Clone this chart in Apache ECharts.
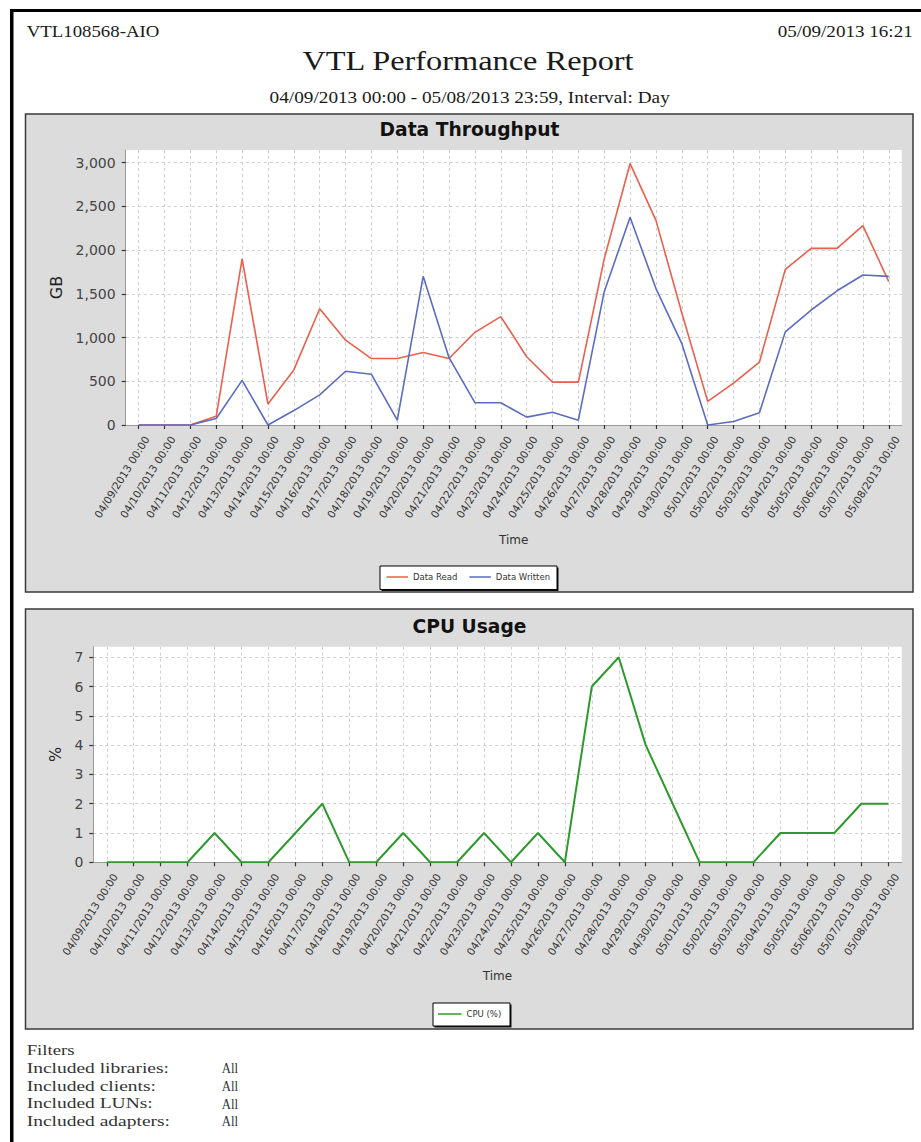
<!DOCTYPE html>
<html>
<head>
<meta charset="utf-8">
<title>VTL Performance Report</title>
<style>
  html, body { margin: 0; padding: 0; background: #ffffff; }
  #report { width: 921px; height: 1142px; }
</style>
<script src="https://cdn.jsdelivr.net/npm/echarts@6/dist/echarts.min.js"></script>
</head>
<body>
<div id="report"></div>
<script>
// Daily samples, 04/09/2013 .. 05/08/2013
const categories = [
  '04/09/2013 00:00', '04/10/2013 00:00', '04/11/2013 00:00', '04/12/2013 00:00',
  '04/13/2013 00:00', '04/14/2013 00:00', '04/15/2013 00:00', '04/16/2013 00:00',
  '04/17/2013 00:00', '04/18/2013 00:00', '04/19/2013 00:00', '04/20/2013 00:00',
  '04/21/2013 00:00', '04/22/2013 00:00', '04/23/2013 00:00', '04/24/2013 00:00',
  '04/25/2013 00:00', '04/26/2013 00:00', '04/27/2013 00:00', '04/28/2013 00:00',
  '04/29/2013 00:00', '04/30/2013 00:00', '05/01/2013 00:00', '05/02/2013 00:00',
  '05/03/2013 00:00', '05/04/2013 00:00', '05/05/2013 00:00', '05/06/2013 00:00',
  '05/07/2013 00:00', '05/08/2013 00:00'
];

// Data throughput, GB per day
const dataRead = [
  0, 0, 0, 100, 1900, 240, 630, 1330, 970, 760,
  760, 830, 760, 1060, 1240, 780, 490, 490, 1900, 2990,
  2340, 1280, 270, 480, 720, 1780, 2020, 2020, 2280, 1640
];
const dataWritten = [
  0, 0, 0, 75, 510, 0, 165, 345, 615, 580,
  55, 1700, 770, 255, 255, 90, 145, 55, 1525, 2375,
  1560, 930, 0, 40, 140, 1065, 1315, 1535, 1715, 1700
];

// CPU usage, percent per day
const cpuPercent = [
  0, 0, 0, 0, 1, 0, 0, 1, 2, 0,
  0, 1, 0, 0, 1, 0, 1, 0, 6, 7,
  4, 2, 0, 0, 0, 1, 1, 1, 2, 2
];

const filterRows = [
  ['Included libraries:', 'All'],
  ['Included clients:', 'All'],
  ['Included LUNs:', 'All'],
  ['Included adapters:', 'All']
];

const SERIF = '"Liberation Serif", "Times New Roman", serif';
const SANS = '"DejaVu Sans", Verdana, sans-serif';

const chart = echarts.init(document.getElementById('report'), null, { renderer: 'svg' });

function serifText(text, x, y, size, align, scaleX, fill) {
  return {
    type: 'text', x: x, y: y, scaleX: scaleX, z: 5,
    style: {
      text: text, fill: fill || '#1a1a1a',
      font: size + 'px ' + SERIF, align: align, verticalAlign: 'middle'
    }
  };
}

const gridLine = { show: true, lineStyle: { color: '#cfcfcf', width: 1, type: [3, 3] } };

function categoryAxis(gridIndex, nameGap) {
  return {
    type: 'category', gridIndex: gridIndex, data: categories, boundaryGap: true,
    name: 'Time', nameLocation: 'middle', nameGap: nameGap,
    nameTextStyle: { fontFamily: SANS, fontSize: 12, color: '#333' },
    axisLine: { show: true, lineStyle: { color: '#9a9a9a', width: 1 } },
    axisTick: { show: true, alignWithLabel: true, length: 4, lineStyle: { color: '#333', width: 1.2 } },
    axisLabel: {
      interval: 0, rotate: 58, margin: 7, fontFamily: SANS, fontSize: 10.5,
      color: '#333', verticalAlign: 'top', padding: [4, 0, 0, 0]
    },
    splitLine: Object.assign({ alignWithLabel: true }, gridLine)
  };
}

function valueAxis(gridIndex, name, max, interval, nameGap) {
  return {
    type: 'value', gridIndex: gridIndex, min: 0, max: max, interval: interval,
    name: name, nameLocation: 'middle', nameGap: nameGap, nameRotate: 90,
    nameTextStyle: { fontFamily: SANS, fontSize: 16, color: '#222' },
    axisLine: { show: true, lineStyle: { color: '#9a9a9a', width: 1 } },
    axisTick: { show: true, length: 4, lineStyle: { color: '#333', width: 1.2 } },
    axisLabel: { margin: 10, fontFamily: SANS, fontSize: 14, color: '#444', showMaxLabel: false },
    splitLine: Object.assign({ showMinLine: false, showMaxLine: false }, gridLine)
  };
}

const graphics = [
  // page frame
  { type: 'rect', z: 1, shape: { x: 10, y: 9, width: 911, height: 3 }, style: { fill: '#000' } },
  { type: 'rect', z: 1, shape: { x: 10, y: 9, width: 3.5, height: 1133 }, style: { fill: '#000' } },
  // chart panels
  { type: 'rect', z: -10, shape: { x: 25.5, y: 114, width: 887.5, height: 478 },
    style: { fill: '#dcdcdc', stroke: '#3a3a3a', lineWidth: 1.5 } },
  { type: 'rect', z: -10, shape: { x: 25.5, y: 609, width: 887.5, height: 420 },
    style: { fill: '#dcdcdc', stroke: '#3a3a3a', lineWidth: 1.5 } },
  // legend frames
  { type: 'rect', z: 3, shape: { x: 381.5, y: 567.5, width: 177, height: 23.5 }, style: { fill: '#111' } },
  { type: 'rect', z: 3, shape: { x: 380, y: 566, width: 177, height: 23.5 },
    style: { fill: '#fff', stroke: '#000', lineWidth: 1 } },
  { type: 'rect', z: 3, shape: { x: 434.5, y: 1004.5, width: 77, height: 23 }, style: { fill: '#111' } },
  { type: 'rect', z: 3, shape: { x: 433, y: 1003, width: 77, height: 23 },
    style: { fill: '#fff', stroke: '#000', lineWidth: 1 } },
  // report header
  serifText('VTL108568-AIO', 26.7, 31.5, 17.5, 'left', 1.075),
  serifText('05/09/2013 16:21', 912.7, 31.5, 17.5, 'right', 1.09),
  serifText('VTL Performance Report', 468, 61, 28, 'center', 1.156),
  serifText('04/09/2013 00:00 - 05/08/2013 23:59, Interval: Day', 469.7, 97.3, 16, 'center', 1.203),
  // chart titles
  { type: 'text', x: 469.5, y: 129, z: 5,
    style: { text: 'Data Throughput', fill: '#111', font: 'bold 18.7px ' + SANS, align: 'center', verticalAlign: 'middle' } },
  { type: 'text', x: 469.5, y: 626, z: 5,
    style: { text: 'CPU Usage', fill: '#111', font: 'bold 18.7px ' + SANS, align: 'center', verticalAlign: 'middle' } },
  // filters block
  serifText('Filters', 26.7, 1050, 15, 'left', 1.25, '#333')
];
filterRows.forEach(function (row, i) {
  const y = 1068.3 + i * 17.7;
  graphics.push(serifText(row[0], 26.7, y, 15, 'left', 1.3, '#333'));
  graphics.push(serifText(row[1], 221.7, y, 15, 'left', 0.85, '#333'));
});

const legendText = { fontFamily: SANS, fontSize: 8.5, color: '#333' };

chart.setOption({
  animation: false,
  backgroundColor: '#ffffff',
  graphic: { elements: graphics },
  grid: [
    { left: 125.7, top: 150, width: 776, height: 275, show: true, backgroundColor: '#ffffff',
      borderWidth: 0, containLabel: false, outerBoundsMode: 'none' },
    { left: 93.3, top: 646.7, width: 808.4, height: 215.6, show: true, backgroundColor: '#ffffff',
      borderWidth: 0, containLabel: false, outerBoundsMode: 'none' }
  ],
  xAxis: [categoryAxis(0, 109), categoryAxis(1, 108)],
  yAxis: [
    valueAxis(0, 'GB', 3145, 500, 60),
    valueAxis(1, '%', 7.36, 1, 28)
  ],
  legend: [
    { data: ['Data Read', 'Data Written'], left: 386.5, top: 572.5, padding: 0,
      itemWidth: 21.5, itemHeight: 1.5, itemGap: 12, icon: 'rect', textStyle: legendText, z: 6 },
    { data: ['CPU (%)'], left: 438, top: 1009.5, padding: 0,
      itemWidth: 23.5, itemHeight: 1.5, itemGap: 10, icon: 'rect', textStyle: legendText, z: 6 }
  ],
  series: [
    { name: 'Data Read', type: 'line', xAxisIndex: 0, yAxisIndex: 0, data: dataRead,
      symbol: 'none', color: '#ea5f4d', lineStyle: { width: 1.6, color: '#ea5f4d' } },
    { name: 'Data Written', type: 'line', xAxisIndex: 0, yAxisIndex: 0, data: dataWritten,
      symbol: 'none', color: '#5b6cc2', lineStyle: { width: 1.6, color: '#5b6cc2' } },
    { name: 'CPU (%)', type: 'line', xAxisIndex: 1, yAxisIndex: 1, data: cpuPercent,
      symbol: 'none', color: '#2e9a2e', lineStyle: { width: 2, color: '#2e9a2e' } }
  ]
});
</script>
</body>
</html>
